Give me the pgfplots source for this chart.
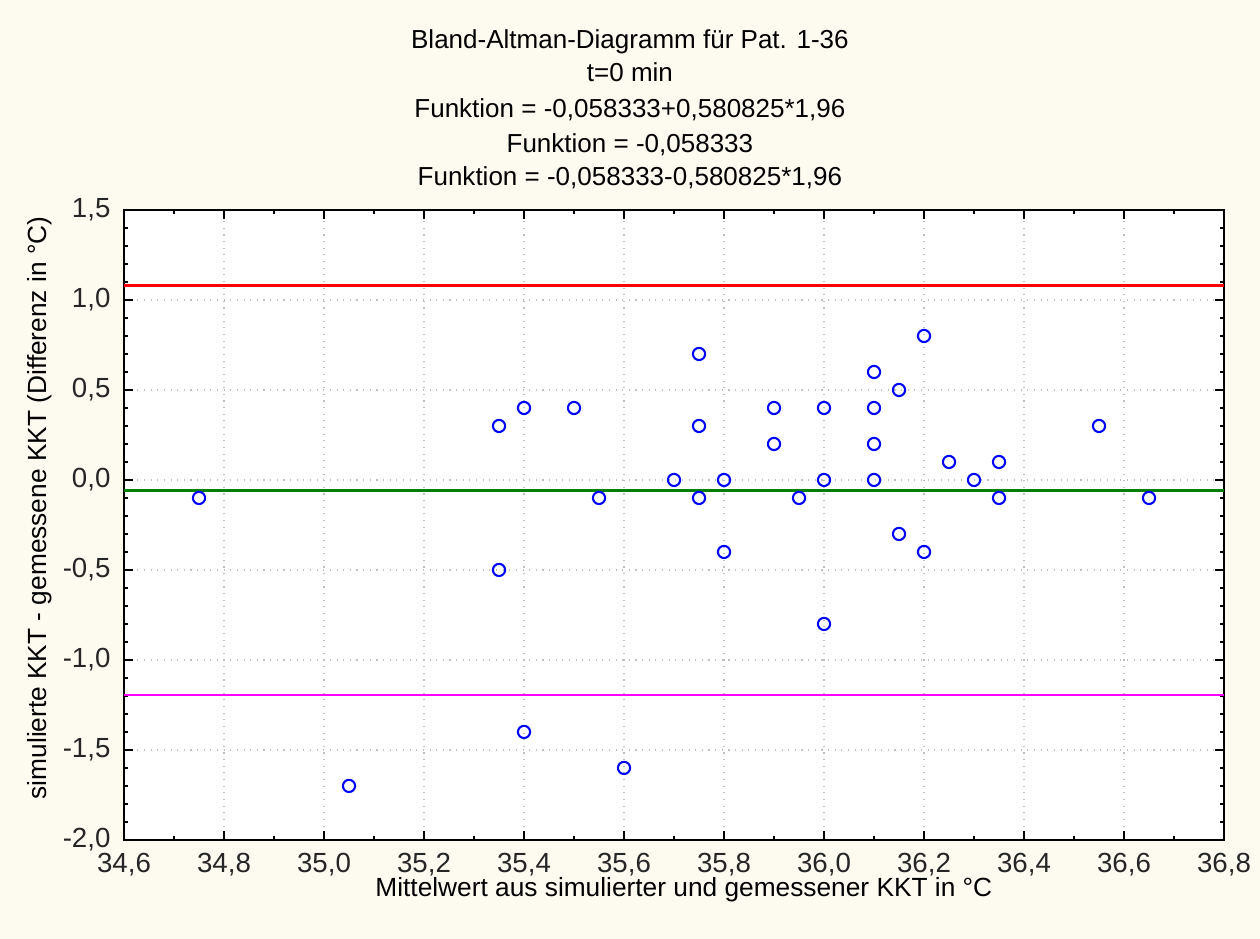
\documentclass[border=0pt]{standalone}
\usepackage{fontspec}
\setmainfont{Liberation Sans}
\usepackage{pgfplots}
\pgfplotsset{compat=1.18}
\definecolor{cream}{RGB}{253,250,240}
\definecolor{bagreen}{RGB}{0,128,0}
\definecolor{bamagenta}{RGB}{255,0,255}

\begin{document}
\begin{tikzpicture}
  % page background, axis box lower left sits at (0,0)
  \fill[cream] (-1.575,-1.257) rectangle (14.427,10.667);
  \begin{axis}[
      scale only axis,
      width=13.97cm, height=8cm,
      xmin=34.6, xmax=36.8,
      ymin=-2.0, ymax=1.5,
      xtick={34.6,34.8,...,36.81},
      ytick={-2.0,-1.5,...,1.51},
      minor x tick num=1,
      minor y tick num=4,
      tick pos=both,
      tick align=inside,
      major tick length=0.11cm,
      minor tick length=0.05cm,
      every tick/.style={black, line width=0.6pt},
      axis line style={line width=0.8pt},
      axis background/.style={fill=white},
      grid=major,
      grid style={dotted, gray!50, line width=0.6pt},
      /pgf/number format/.cd, use comma, fixed, fixed zerofill, precision=1, assume math mode=true,
      /pgfplots/.cd,
      tick label style={font=\fontsize{10}{11}\selectfont, text=black!85, inner sep=1pt},
      xticklabel style={anchor=north, yshift=-0.13cm},
      yticklabel style={xshift=-0.13cm},
    ]
    \addplot[color=red, line width=0.8pt] coordinates {(34.6,1.0800) (36.8,1.0800)};
    \addplot[color=bagreen, line width=0.8pt] coordinates {(34.6,-0.0583) (36.8,-0.0583)};
    \addplot[color=bamagenta, line width=0.8pt] coordinates {(34.6,-1.1967) (36.8,-1.1967)};
    \addplot[only marks, mark=o, mark size=2.2pt, color=blue, mark options={line width=0.75pt}]
      coordinates {
        (34.75,-0.1) (35.05,-1.7) (35.35,0.3) (35.35,-0.5) (35.40,0.4)
        (35.40,-1.4) (35.50,0.4) (35.55,-0.1) (35.60,-1.6) (35.70,0.0)
        (35.75,0.7) (35.75,0.3) (35.75,-0.1) (35.80,0.0) (35.80,-0.4)
        (35.90,0.4) (35.90,0.2) (35.95,-0.1) (36.00,0.4) (36.00,0.0)
        (36.00,-0.8) (36.10,0.6) (36.10,0.4) (36.10,0.2) (36.10,0.0)
        (36.15,0.5) (36.15,-0.3) (36.20,0.8) (36.20,-0.4) (36.25,0.1)
        (36.30,0.0) (36.35,0.1) (36.35,-0.1) (36.55,0.3) (36.65,-0.1)
      };
  \end{axis}
  % axis labels
  \begin{scope}[every node/.style={font=\fontsize{9.5}{11}\selectfont, anchor=center, inner sep=0pt}]
    \node at (7.11,-0.63) {Mittelwert aus simulierter und gemessener KKT in °C};
    \node[rotate=90] at (-1.067,4.216) {simulierte KKT - gemessene KKT (Differenz in °C)};
  \end{scope}
  % titles
  \begin{scope}[every node/.style={font=\fontsize{9.4}{11}\selectfont, anchor=center}]
    \node at (6.425,10.133) {Bland-Altman-Diagramm für Pat. 1-36};
    \node at (6.425,9.752) {t=0 min};
    \node at (6.425,9.270) {Funktion = -0,058333+0,580825*1,96};
    \node at (6.425,8.825) {Funktion = -0,058333};
    \node at (6.425,8.406) {Funktion = -0,058333-0,580825*1,96};
  \end{scope}
  \pgfresetboundingbox
  \useasboundingbox (-1.575,-1.257) rectangle (14.427,10.667);
\end{tikzpicture}
\end{document}
